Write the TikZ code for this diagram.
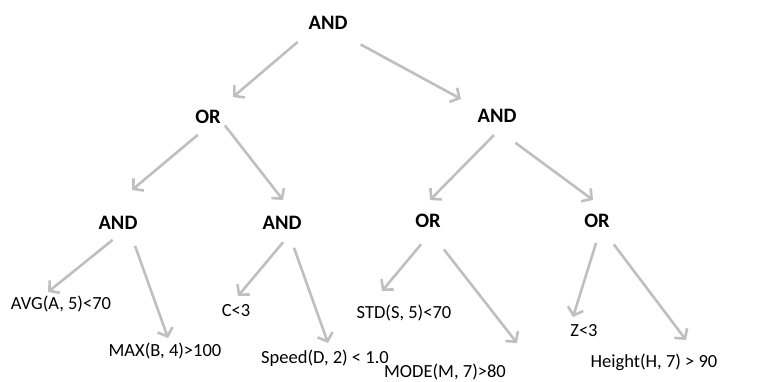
\documentclass[tikz,border=0pt]{standalone}
\usepackage{fontspec}
\setmainfont{Carlito}
\usetikzlibrary{arrows.meta}
\begin{document}
\begin{tikzpicture}[x=1pt,y=-1pt,
  op/.style={font=\fontsize{20.5}{22}\selectfont\bfseries, inner sep=1pt},
  leaf/.style={font=\fontsize{18.5}{20}\selectfont, inner sep=1pt},
  edge/.style={draw=black!25, line width=2.6pt,
    -{Straight Barb[length=7pt,width=16pt,line width=2.6pt]}, shorten <=3pt}]
\useasboundingbox (0,0) rectangle (761,381);
\node[op] (r) at (328,23) {AND};
\node[op] (o1) at (208,117) {OR};
\node[op] (a1) at (497,116) {AND};
\node[op] (a2) at (118,223) {AND};
\node[op] (a3) at (282,223) {AND};
\node[op] (o2) at (428,221) {OR};
\node[op] (o3) at (597,221) {OR};
\node[leaf] (l1) at (61,304) {AVG(A, 5)<70};
\node[leaf] (l2) at (165,351) {MAX(B, 4)>100};
\node[leaf] (l3) at (236,311) {C<3};
\node[leaf] (l4) at (325,358) {Speed(D, 2) < 1.0};
\node[leaf] (l5) at (404,313) {STD(S, 5)<70};
\node[leaf] (l6) at (445,372) {MODE(M, 7)>80};
\node[leaf] (l7) at (584,331) {Z<3};
\node[leaf] (l8) at (654,362) {Height(H, 7) > 90};
\coordinate (s1) at (300,40);  \coordinate (t1) at (233,97);
\coordinate (s2) at (358,43);  \coordinate (t2) at (461,99);
\coordinate (s3) at (200,133); \coordinate (t3) at (132,190);
\coordinate (s4) at (223,123); \coordinate (t4) at (283,200);
\coordinate (s5) at (496,133); \coordinate (t5) at (430,200);
\coordinate (s6) at (513,141); \coordinate (t6) at (593,200);
\coordinate (s7) at (115,238); \coordinate (t7) at (48,292);
\coordinate (s8) at (134,243); \coordinate (t8) at (168,338);
\coordinate (s9) at (285,240); \coordinate (t9) at (238,296);
\coordinate (s10) at (293,245); \coordinate (t10) at (328,343);
\coordinate (s11) at (423,242); \coordinate (t11) at (382,291);
\coordinate (s12) at (442,247); \coordinate (t12) at (517,343);
\coordinate (s13) at (597,240); \coordinate (t13) at (573,317);
\coordinate (s14) at (612,242); \coordinate (t14) at (686,340);
\draw[edge] (s1) -- (t1);
\draw[edge] (s2) -- (t2);
\draw[edge] (s3) -- (t3);
\draw[edge] (s4) -- (t4);
\draw[edge] (s5) -- (t5);
\draw[edge] (s6) -- (t6);
\draw[edge] (s7) -- (t7);
\draw[edge] (s8) -- (t8);
\draw[edge] (s9) -- (t9);
\draw[edge] (s10) -- (t10);
\draw[edge] (s11) -- (t11);
\draw[edge] (s12) -- (t12);
\draw[edge] (s13) -- (t13);
\draw[edge] (s14) -- (t14);
\end{tikzpicture}
\end{document}
